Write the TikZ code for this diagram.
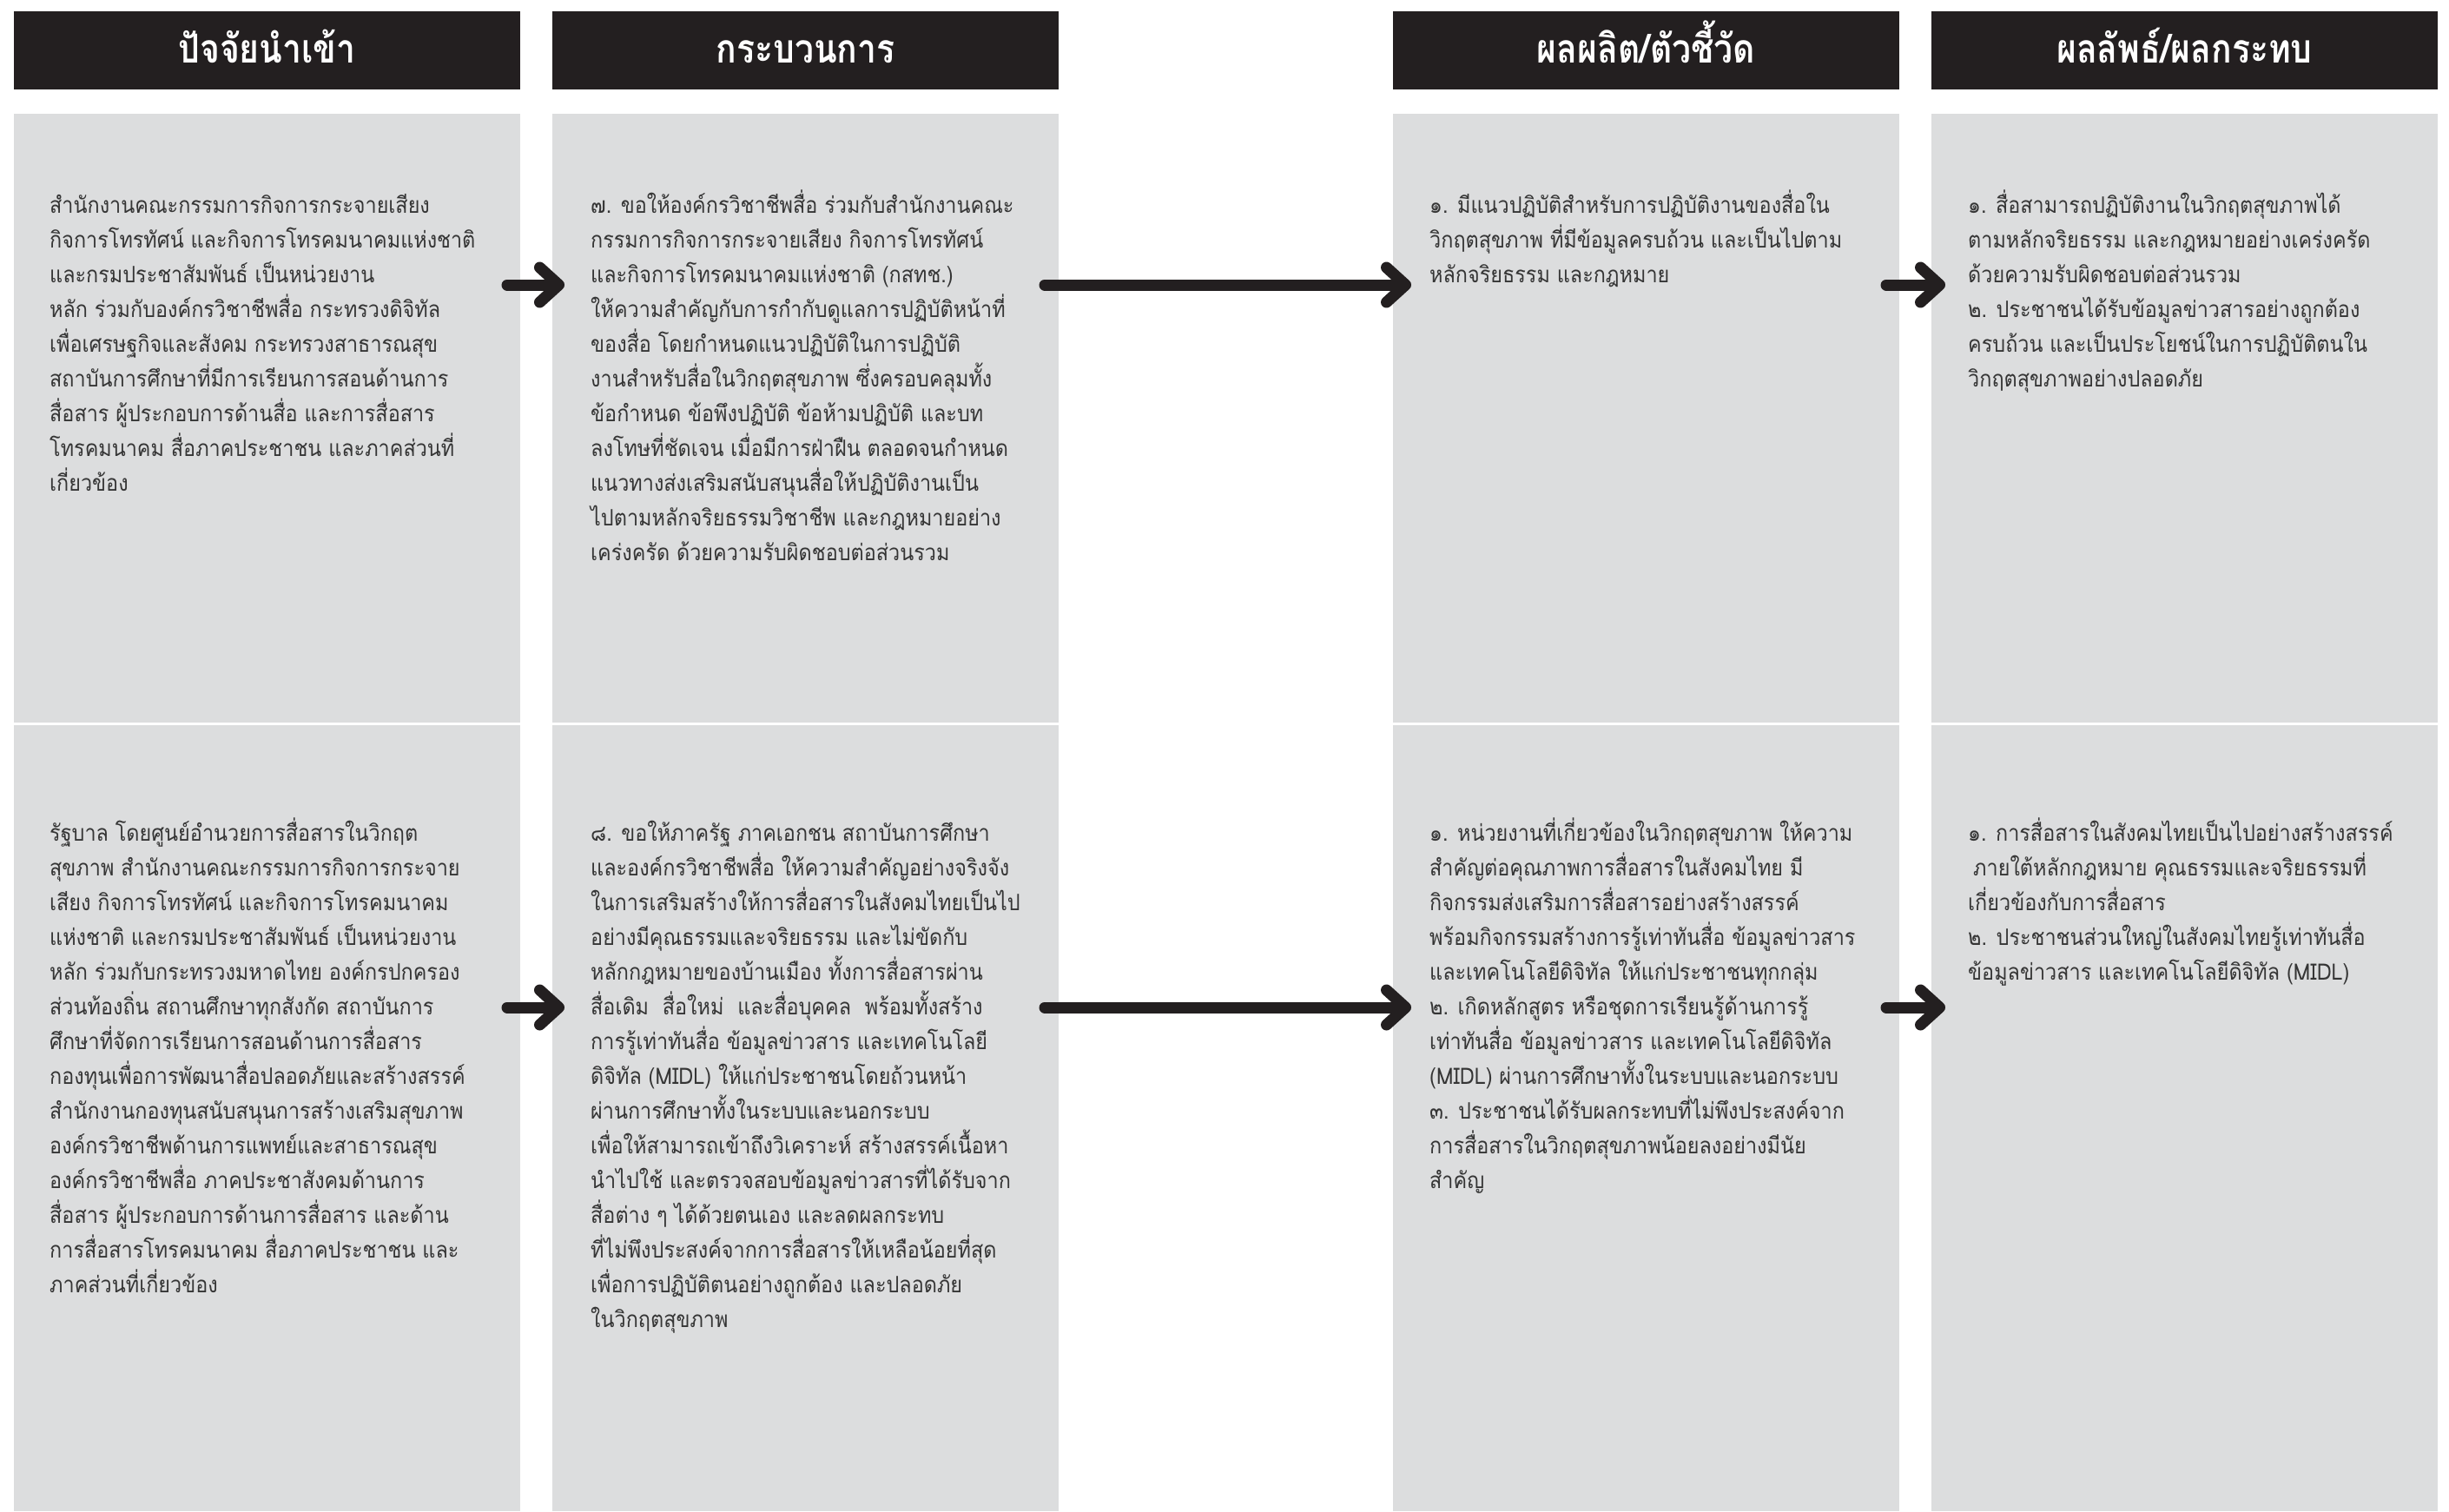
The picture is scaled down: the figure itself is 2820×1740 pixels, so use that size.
\documentclass[tikz,border=0pt]{standalone}
\usepackage{fontspec}
\newfontfamily\thaifont[Script=Thai, FakeStretch=0.9]{Loma}
\newfontfamily\thaihead[Script=Thai, FakeStretch=0.85]{Loma}
\usetikzlibrary{arrows.meta}
\definecolor{boxgray}{HTML}{DCDDDE}
\definecolor{headblack}{HTML}{231F20}
\definecolor{txtgray}{HTML}{353535}
\begin{document}
\begin{tikzpicture}[x=1pt,y=-1pt,
  body/.style={anchor=north west, inner sep=0pt, align=left, text=txtgray,
    font=\thaifont\fontsize{26}{40}\selectfont},
  headbox/.style={fill=headblack, text=white, inner sep=0pt, minimum width=583pt,
    minimum height=90pt, text height=28pt, text depth=0pt,
    font=\thaihead\bfseries\fontsize{46}{46}\selectfont},
  panel/.style={fill=boxgray},
  flow/.style={draw=headblack, line width=13pt, line cap=round,
    -{Straight Barb[length=22pt, width=40pt, round]}},
]
\useasboundingbox (0,0) rectangle (2820,1740);
\fill[white] (0,0) rectangle (2820,1740);

% panels
\foreach \xl in {16,636,1604,2224}{
  \fill[panel] (\xl,131) rectangle ({\xl+583},832);
  \fill[panel] (\xl,835) rectangle ({\xl+583},1740);
}

% headers
\node[headbox] (h1) at (307.5,58) {ปัจจัยนำเข้า};
\node[headbox] (h2) at (927.5,58) {กระบวนการ};
\node[headbox] (h3) at (1895.5,58) {ผลผลิต/ตัวชี้วัด};
\node[headbox] (h4) at (2515.5,58) {ผลลัพธ์/ผลกระทบ};

% top row texts
\node[body] (a1) at (57,209) {\rule{0pt}{36pt}สำนักงานคณะกรรมการกิจการกระจายเสียง\\
กิจการโทรทัศน์ และกิจการโทรคมนาคมแห่งชาติ\\
และกรมประชาสัมพันธ์ เป็นหน่วยงาน\\
หลัก ร่วมกับองค์กรวิชาชีพสื่อ กระทรวงดิจิทัล\\
เพื่อเศรษฐกิจและสังคม กระทรวงสาธารณสุข\\
สถาบันการศึกษาที่มีการเรียนการสอนด้านการ\\
สื่อสาร ผู้ประกอบการด้านสื่อ และการสื่อสาร\\
โทรคมนาคม สื่อภาคประชาชน และภาคส่วนที่\\
เกี่ยวข้อง};

\node[body] (b1) at (680,209) {\rule{0pt}{36pt}๗. ขอให้องค์กรวิชาชีพสื่อ ร่วมกับสำนักงานคณะ\\
กรรมการกิจการกระจายเสียง กิจการโทรทัศน์\\
และกิจการโทรคมนาคมแห่งชาติ (กสทช.)\\
ให้ความสำคัญกับการกำกับดูแลการปฏิบัติหน้าที่\\
ของสื่อ โดยกำหนดแนวปฏิบัติในการปฏิบัติ\\
งานสำหรับสื่อในวิกฤตสุขภาพ ซึ่งครอบคลุมทั้ง\\
ข้อกำหนด ข้อพึงปฏิบัติ ข้อห้ามปฏิบัติ และบท\\
ลงโทษที่ชัดเจน เมื่อมีการฝ่าฝืน ตลอดจนกำหนด\\
แนวทางส่งเสริมสนับสนุนสื่อให้ปฏิบัติงานเป็น\\
ไปตามหลักจริยธรรมวิชาชีพ และกฎหมายอย่าง\\
เคร่งครัด ด้วยความรับผิดชอบต่อส่วนรวม};

\node[body] (c1) at (1646,209) {\rule{0pt}{36pt}๑. มีแนวปฏิบัติสำหรับการปฏิบัติงานของสื่อใน\\
วิกฤตสุขภาพ ที่มีข้อมูลครบถ้วน และเป็นไปตาม\\
หลักจริยธรรม และกฎหมาย};

\node[body] (d1) at (2266,209) {\rule{0pt}{36pt}๑. สื่อสามารถปฏิบัติงานในวิกฤตสุขภาพได้\\
ตามหลักจริยธรรม และกฎหมายอย่างเคร่งครัด\\
ด้วยความรับผิดชอบต่อส่วนรวม\\
๒. ประชาชนได้รับข้อมูลข่าวสารอย่างถูกต้อง\\
ครบถ้วน และเป็นประโยชน์ในการปฏิบัติตนใน\\
วิกฤตสุขภาพอย่างปลอดภัย};

% bottom row texts
\node[body] (a2) at (57,932) {\rule{0pt}{36pt}รัฐบาล โดยศูนย์อำนวยการสื่อสารในวิกฤต\\
สุขภาพ สำนักงานคณะกรรมการกิจการกระจาย\\
เสียง กิจการโทรทัศน์ และกิจการโทรคมนาคม\\
แห่งชาติ และกรมประชาสัมพันธ์ เป็นหน่วยงาน\\
หลัก ร่วมกับกระทรวงมหาดไทย องค์กรปกครอง\\
ส่วนท้องถิ่น สถานศึกษาทุกสังกัด สถาบันการ\\
ศึกษาที่จัดการเรียนการสอนด้านการสื่อสาร\\
กองทุนเพื่อการพัฒนาสื่อปลอดภัยและสร้างสรรค์\\
สำนักงานกองทุนสนับสนุนการสร้างเสริมสุขภาพ\\
องค์กรวิชาชีพด้านการแพทย์และสาธารณสุข\\
องค์กรวิชาชีพสื่อ ภาคประชาสังคมด้านการ\\
สื่อสาร ผู้ประกอบการด้านการสื่อสาร และด้าน\\
การสื่อสารโทรคมนาคม สื่อภาคประชาชน และ\\
ภาคส่วนที่เกี่ยวข้อง};

\node[body] (b2) at (680,932) {\rule{0pt}{36pt}๘. ขอให้ภาครัฐ ภาคเอกชน สถาบันการศึกษา\\
และองค์กรวิชาชีพสื่อ ให้ความสำคัญอย่างจริงจัง\\
ในการเสริมสร้างให้การสื่อสารในสังคมไทยเป็นไป\\
อย่างมีคุณธรรมและจริยธรรม และไม่ขัดกับ\\
หลักกฎหมายของบ้านเมือง ทั้งการสื่อสารผ่าน\\
สื่อเดิม\ \ สื่อใหม่\ \ และสื่อบุคคล\ \ พร้อมทั้งสร้าง\\
การรู้เท่าทันสื่อ ข้อมูลข่าวสาร และเทคโนโลยี\\
ดิจิทัล (MIDL) ให้แก่ประชาชนโดยถ้วนหน้า\\
ผ่านการศึกษาทั้งในระบบและนอกระบบ\\
เพื่อให้สามารถเข้าถึงวิเคราะห์ สร้างสรรค์เนื้อหา\\
นำไปใช้ และตรวจสอบข้อมูลข่าวสารที่ได้รับจาก\\
สื่อต่าง ๆ ได้ด้วยตนเอง และลดผลกระทบ\\
ที่ไม่พึงประสงค์จากการสื่อสารให้เหลือน้อยที่สุด\\
เพื่อการปฏิบัติตนอย่างถูกต้อง และปลอดภัย\\
ในวิกฤตสุขภาพ};

\node[body] (c2) at (1646,932) {\rule{0pt}{36pt}๑. หน่วยงานที่เกี่ยวข้องในวิกฤตสุขภาพ ให้ความ\\
สำคัญต่อคุณภาพการสื่อสารในสังคมไทย มี\\
กิจกรรมส่งเสริมการสื่อสารอย่างสร้างสรรค์\\
พร้อมกิจกรรมสร้างการรู้เท่าทันสื่อ ข้อมูลข่าวสาร\\
และเทคโนโลยีดิจิทัล ให้แก่ประชาชนทุกกลุ่ม\\
๒. เกิดหลักสูตร หรือชุดการเรียนรู้ด้านการรู้\\
เท่าทันสื่อ ข้อมูลข่าวสาร และเทคโนโลยีดิจิทัล\\
(MIDL) ผ่านการศึกษาทั้งในระบบและนอกระบบ\\
๓. ประชาชนได้รับผลกระทบที่ไม่พึงประสงค์จาก\\
การสื่อสารในวิกฤตสุขภาพน้อยลงอย่างมีนัย\\
สำคัญ};

\node[body] (d2) at (2266,932) {\rule{0pt}{36pt}๑. การสื่อสารในสังคมไทยเป็นไปอย่างสร้างสรรค์\\
\hspace{6pt}ภายใต้หลักกฎหมาย คุณธรรมและจริยธรรมที่\\
เกี่ยวข้องกับการสื่อสาร\\
๒. ประชาชนส่วนใหญ่ในสังคมไทยรู้เท่าทันสื่อ\\
ข้อมูลข่าวสาร และเทคโนโลยีดิจิทัล (MIDL)};

% arrows
\coordinate (p1s) at (584,328);  \coordinate (p1e) at (650,328);
\coordinate (q1s) at (1203,328); \coordinate (q1e) at (1625,328);
\coordinate (r1s) at (2172,328); \coordinate (r1e) at (2240,328);
\coordinate (p2s) at (584,1160);  \coordinate (p2e) at (650,1160);
\coordinate (q2s) at (1203,1160); \coordinate (q2e) at (1625,1160);
\coordinate (r2s) at (2172,1160); \coordinate (r2e) at (2240,1160);
\draw[flow] (p1s) -- (p1e);
\draw[flow] (q1s) -- (q1e);
\draw[flow] (r1s) -- (r1e);
\draw[flow] (p2s) -- (p2e);
\draw[flow] (q2s) -- (q2e);
\draw[flow] (r2s) -- (r2e);
\end{tikzpicture}
\end{document}
